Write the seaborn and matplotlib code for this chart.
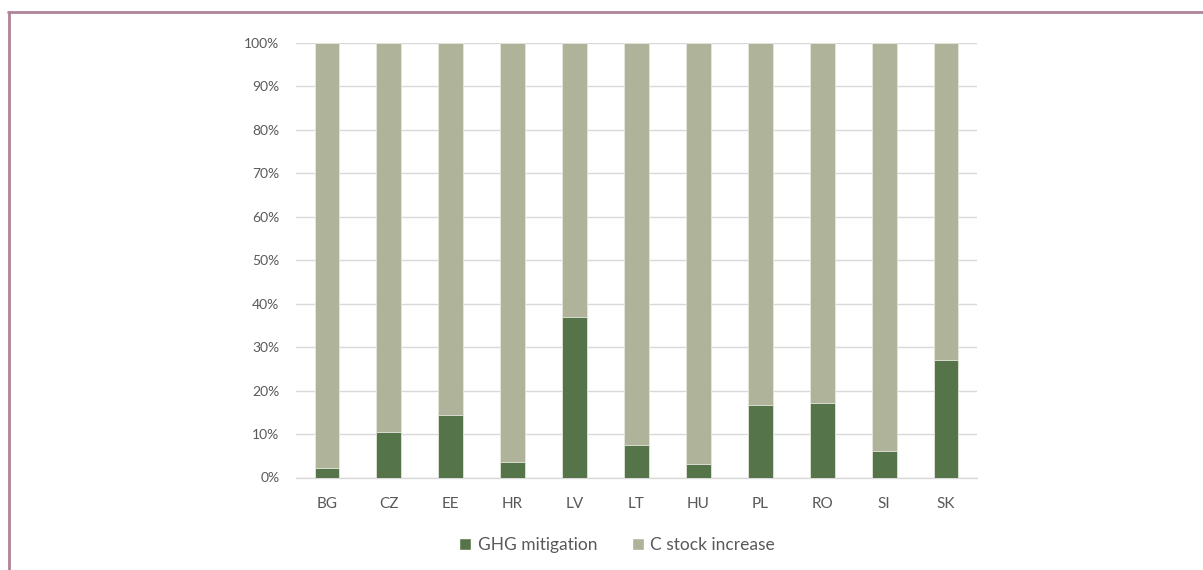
import matplotlib
matplotlib.use("Agg")
import matplotlib.pyplot as plt
import seaborn as sns
import pandas as pd
from matplotlib.lines import Line2D
from matplotlib.patches import Patch
from matplotlib.ticker import PercentFormatter

countries = ["BG", "CZ", "EE", "HR", "LV", "LT", "HU", "PL", "RO", "SI", "SK"]
ghg_mitigation = [2.1, 10.5, 14.4, 3.5, 37.0, 7.4, 3.1, 16.7, 17.2, 6.0, 27.0]
c_stock_increase = [97.9, 89.5, 85.6, 96.5, 63.0, 92.6, 96.9, 83.3, 82.8, 94.0, 73.0]

dark = "#56744A"
light = "#AEB399"
text_col = "#595959"

sns.set_theme(style="white")
plt.rcParams['font.family'] = ['Lato', 'DejaVu Sans']

df = pd.DataFrame({"country": countries, "ghg": ghg_mitigation,
                   "total": [g + c for g, c in zip(ghg_mitigation, c_stock_increase)]})

fig = plt.figure(figsize=(12.03, 5.70), dpi=100)
ax = fig.add_axes([296/1203, (570-477.5)/570, (977-296)/1203, (477.5-43)/570])

sns.barplot(data=df, x="country", y="total", color=light, width=0.4,
            edgecolor="#E6E8DE", linewidth=0.6, ax=ax, saturation=1, zorder=2)
sns.barplot(data=df, x="country", y="ghg", color=dark, width=0.4,
            edgecolor="#E6E8DE", linewidth=0.6, ax=ax, saturation=1, zorder=3)

ax.set_xlim(-0.5, len(countries) - 0.5)
ax.set_ylim(0, 100)
ax.set_yticks(range(0, 101, 10))
ax.yaxis.set_major_formatter(PercentFormatter(decimals=0))
ax.grid(axis="y", color="#D9D9D9", linewidth=1, zorder=0)
ax.set_axisbelow(True)
for s in ["top", "right", "left"]:
    ax.spines[s].set_visible(False)
ax.spines["bottom"].set_color("#D9D9D9")
ax.spines["bottom"].set_linewidth(1)
ax.set_xlabel("")
ax.set_ylabel("")
ax.tick_params(axis="both", length=0, colors=text_col)
ax.tick_params(axis="x", pad=14, labelsize=11)
ax.tick_params(axis="y", pad=12, labelsize=10)

handles = [Patch(facecolor=dark, label="GHG mitigation"),
           Patch(facecolor=light, label="C stock increase")]
fig.legend(handles=handles, loc="center", bbox_to_anchor=(617/1203, 1 - 545/570),
           ncol=2, frameon=False, fontsize=12.5, handlelength=0.7, handleheight=0.7,
           handletextpad=0.35, columnspacing=2.0, labelcolor=text_col)

border = "#B08398"
fig.add_artist(Line2D([8/1203, 1.0], [1 - 11.5/570, 1 - 11.5/570], color=border,
                      linewidth=2, transform=fig.transFigure))
fig.add_artist(Line2D([8.5/1203, 8.5/1203], [1 - 11.5/570, 0], color=border,
                      linewidth=2, transform=fig.transFigure))

fig.savefig("out.png", dpi=100, facecolor="white")
